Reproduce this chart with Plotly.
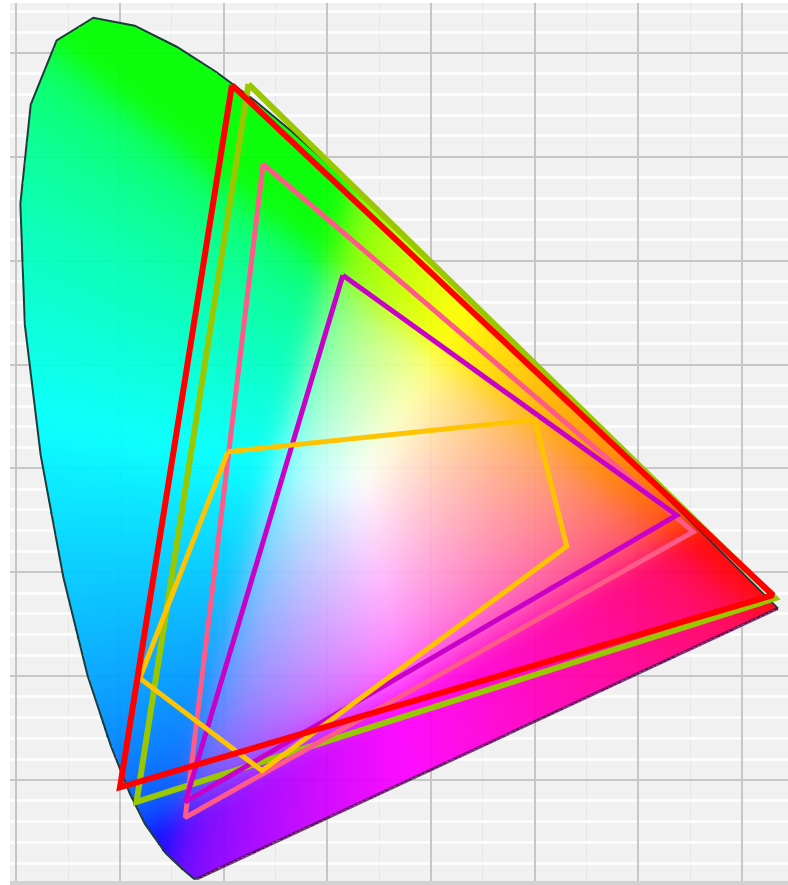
import numpy as np
import plotly.graph_objects as go

# CIE 1931 spectral locus (chromaticity x, y), 380 nm -> 700 nm
locus_x = [0.1741, 0.1714, 0.1644, 0.1566, 0.1440, 0.1241, 0.1096, 0.0913, 0.0687,
           0.0454, 0.0235, 0.0082, 0.0039, 0.0139, 0.0389, 0.0743, 0.1142, 0.1547,
           0.1929, 0.2296, 0.2658, 0.3016, 0.3373, 0.3731, 0.4087, 0.4441, 0.4788,
           0.5125, 0.5448, 0.5752, 0.6029, 0.6270, 0.6658, 0.6915, 0.7079, 0.7190,
           0.7260, 0.7300, 0.7334, 0.7347]
locus_y = [0.0050, 0.0051, 0.0109, 0.0177, 0.0297, 0.0578, 0.0868, 0.1327, 0.2007,
           0.2950, 0.4127, 0.5384, 0.6548, 0.7502, 0.8120, 0.8338, 0.8262, 0.8059,
           0.7816, 0.7543, 0.7243, 0.6923, 0.6589, 0.6245, 0.5896, 0.5547, 0.5202,
           0.4866, 0.4544, 0.4242, 0.3965, 0.3725, 0.3340, 0.3083, 0.2920, 0.2809,
           0.2740, 0.2700, 0.2666, 0.2653]

# Gamut polygons
yellowgreen_x = [0.224, 0.732, 0.116]
yellowgreen_y = [0.770, 0.275, 0.079]
pink_x = [0.238, 0.653, 0.163]
pink_y = [0.693, 0.339, 0.064]
magenta_x = [0.315, 0.637, 0.163]
magenta_y = [0.586, 0.355, 0.079]
orange_x = [0.204, 0.500, 0.531, 0.237, 0.119]
orange_y = [0.416, 0.447, 0.325, 0.109, 0.198]
red_x = [0.208, 0.730, 0.100]
red_y = [0.769, 0.278, 0.093]

X_RANGE = [-0.0061, 0.7444]
Y_RANGE = [-0.001, 0.848]

# ---- colour field inside the horseshoe (background rendering) ----
step = 0.002
xs = np.arange(X_RANGE[0], X_RANGE[1] + step, step)
ys = np.arange(Y_RANGE[0], Y_RANGE[1] + step, step)
GX, GY = np.meshgrid(xs, ys)

vx = np.array(locus_x)
vy = np.array(locus_y)
inside = np.zeros(GX.shape, dtype=bool)
j = len(vx) - 1
for i in range(len(vx)):
    cond = ((vy[i] > GY) != (vy[j] > GY)) & (
        GX < (vx[j] - vx[i]) * (GY - vy[i]) / (vy[j] - vy[i] + 1e-12) + vx[i])
    inside ^= cond
    j = i

def xy_to_lin(x, y):
    yy = np.maximum(y, 1e-3)
    X = x / yy
    Y = np.ones_like(x)
    Z = np.maximum(1 - x - y, 0) / yy
    R = 3.2406 * X - 1.5372 * Y - 0.4986 * Z
    G = -0.9689 * X + 1.8758 * Y + 0.0415 * Z
    B = 0.0557 * X - 0.2040 * Y + 1.0570 * Z
    return np.stack([R, G, B], axis=-1)

lin = np.clip(xy_to_lin(GX, GY), 0, None)
white = np.clip(xy_to_lin(np.array(0.335), np.array(0.385)), 1e-6, None)
lin = lin / white
lin = lin / np.maximum(lin.max(axis=-1, keepdims=True), 1e-9)
lin = lin ** 0.75
srgb = np.where(lin <= 0.0031308, 12.92 * lin, 1.055 * lin ** (1 / 2.4) - 0.055)

def box_blur(a, r, axis):
    pad = [(0, 0)] * a.ndim
    pad[axis] = (r + 1, r)
    p = np.pad(a, pad, mode="edge")
    c = np.cumsum(p, axis=axis)
    n = a.shape[axis]
    hi = np.take(c, np.arange(2 * r + 1, 2 * r + 1 + n), axis=axis)
    lo = np.take(c, np.arange(0, n), axis=axis)
    return (hi - lo) / (2 * r + 1)

for _ in range(3):
    srgb = box_blur(srgb, 5, 0)
    srgb = box_blur(srgb, 5, 1)

rgb = np.clip(np.round(srgb * 255), 0, 255)
alpha = np.where(inside, 0.95, 0.0)
z = np.concatenate([rgb, alpha[..., None]], axis=-1)
z = np.where(inside[..., None], z, 0.0)

fig = go.Figure()
fig.add_trace(go.Image(z=z, colormodel="rgba", x0=xs[0], dx=step, y0=ys[0], dy=step,
                       hoverinfo="skip"))

# locus outline and purple line shading
fig.add_trace(go.Scatter(x=locus_x, y=locus_y, mode="lines",
                         line=dict(color="#1e3c3a", width=2),
                         hoverinfo="skip", showlegend=False))
fig.add_trace(go.Scatter(x=[locus_x[0], locus_x[-1]], y=[locus_y[0], locus_y[-1]],
                         mode="lines", line=dict(color="#4a0a4a", width=3),
                         opacity=0.75, hoverinfo="skip", showlegend=False))

def closed(a):
    return list(a) + [a[0]]

gamuts = [
    (yellowgreen_x, yellowgreen_y, "#99c800", 6),
    (pink_x, pink_y, "#ff5a88", 5),
    (magenta_x, magenta_y, "#c800c8", 5),
    (orange_x, orange_y, "#ffc400", 5),
    (red_x, red_y, "#ff0000", 6),
]
for gx, gy, col, w in gamuts:
    fig.add_trace(go.Scatter(x=closed(gx), y=closed(gy), mode="lines",
                             line=dict(color=col, width=w), hoverinfo="skip",
                             showlegend=False))

fig.update_layout(
    width=788, height=885,
    margin=dict(l=10, r=0, t=3, b=0),
    paper_bgcolor="white",
    plot_bgcolor="#f1f1f1",
    showlegend=False,
)
fig.update_xaxes(range=X_RANGE, autorange=False, showticklabels=False, ticks="",
                 showline=False, zeroline=False, dtick=0.1, tick0=0,
                 showgrid=True, gridcolor="#c6c6c6", gridwidth=2,
                 minor=dict(dtick=0.05, showgrid=True, gridcolor="#e6e6e6", gridwidth=1))
fig.update_yaxes(range=Y_RANGE, autorange=False, showticklabels=False, ticks="",
                 showline=False, zeroline=True, zerolinecolor="#d2d2d2", zerolinewidth=6,
                 dtick=0.1, tick0=0, scaleanchor=False,
                 showgrid=True, gridcolor="#c6c6c6", gridwidth=2,
                 minor=dict(dtick=0.02, showgrid=True, gridcolor="#fcfcfc", gridwidth=3))

fig.write_html("out.html", config={"displayModeBar": False},
               post_script="document.body.style.margin='0';")
